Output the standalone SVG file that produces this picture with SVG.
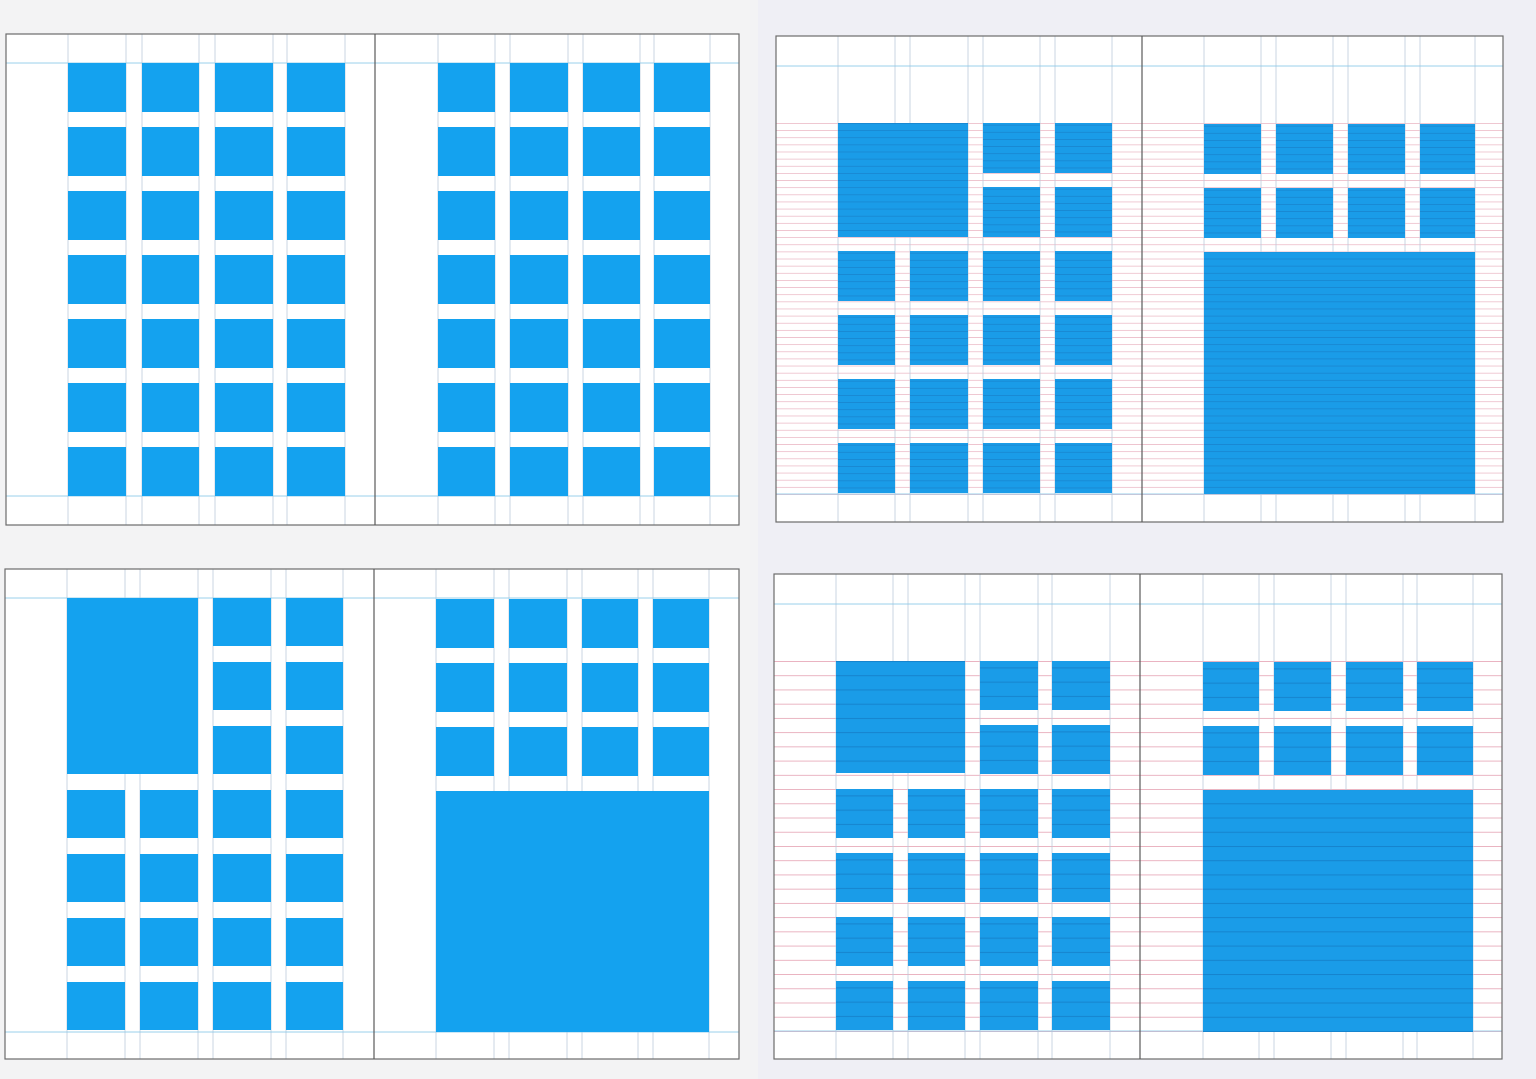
<svg xmlns="http://www.w3.org/2000/svg" xmlns:xlink="http://www.w3.org/1999/xlink" width="1536" height="1079" viewBox="0 0 1536 1079">
<style>
.page{fill:#ffffff;stroke:none}
.frame{fill:none;stroke:#6c6c6c;stroke-width:1.2}
.spine{stroke:#5a5a5a;stroke-width:1.2}
.vg{stroke:#bccadb;stroke-width:0.8}
.hg{stroke:#8fcbe9;stroke-width:0.9}
.c{fill:#14a2ef}
.cl1{fill:url(#pTRc)}
.cl2{fill:url(#pBRc)}
</style>
<defs>
<pattern id="pTR" patternUnits="userSpaceOnUse" x="0" y="123" width="20" height="7.135"><rect width="20" height="0.7" fill="#eab3c1"/></pattern>
<pattern id="pTRc" patternUnits="userSpaceOnUse" x="0" y="123" width="20" height="7.135"><rect width="20" height="7.135" fill="#1a9ce8"/><rect width="20" height="0.8" fill="#1886d0"/></pattern>
<pattern id="pBR" patternUnits="userSpaceOnUse" x="0" y="661" width="20" height="14.23"><rect width="20" height="0.9" fill="#e8adbc"/></pattern>
<pattern id="pBRc" patternUnits="userSpaceOnUse" x="0" y="661" width="20" height="14.23"><rect width="20" height="14.23" fill="#1a9ce8"/><rect width="20" height="1" fill="#1683cd"/></pattern>
<g id="rowTL">
<rect class="c" x="68" y="0" width="58" height="49"/><rect class="c" x="142" y="0" width="57" height="49"/><rect class="c" x="215" y="0" width="58" height="49"/><rect class="c" x="287" y="0" width="58" height="49"/>
<rect class="c" x="438" y="0" width="57" height="49"/><rect class="c" x="510" y="0" width="58" height="49"/><rect class="c" x="583" y="0" width="57" height="49"/><rect class="c" x="654" y="0" width="56" height="49"/>
</g>
<g id="rowTRL">
<rect class="cl1" x="838" y="0" width="57" height="50"/><rect class="cl1" x="910" y="0" width="58" height="50"/><rect class="cl1" x="983" y="0" width="57" height="50"/><rect class="cl1" x="1055" y="0" width="57" height="50"/>
</g>
<g id="rowTRL2">
<rect class="cl1" x="983" y="0" width="57" height="50"/><rect class="cl1" x="1055" y="0" width="57" height="50"/>
</g>
<g id="rowTRR">
<rect class="cl1" x="1204" y="0" width="57" height="50"/><rect class="cl1" x="1276" y="0" width="57" height="50"/><rect class="cl1" x="1348" y="0" width="57" height="50"/><rect class="cl1" x="1420" y="0" width="55" height="50"/>
</g>
<g id="rowBLL">
<rect class="c" x="67" y="0" width="58" height="48"/><rect class="c" x="140" y="0" width="58" height="48"/><rect class="c" x="213" y="0" width="58" height="48"/><rect class="c" x="286" y="0" width="57" height="48"/>
</g>
<g id="rowBLL2">
<rect class="c" x="213" y="0" width="58" height="48"/><rect class="c" x="286" y="0" width="57" height="48"/>
</g>
<g id="rowBLR">
<rect class="c" x="436" y="0" width="58" height="49"/><rect class="c" x="509" y="0" width="58" height="49"/><rect class="c" x="582" y="0" width="56" height="49"/><rect class="c" x="653" y="0" width="56" height="49"/>
</g>
<g id="rowBRL">
<rect class="cl2" x="836" y="0" width="57" height="49"/><rect class="cl2" x="908" y="0" width="57" height="49"/><rect class="cl2" x="980" y="0" width="58" height="49"/><rect class="cl2" x="1052" y="0" width="58" height="49"/>
</g>
<g id="rowBRL2">
<rect class="cl2" x="980" y="0" width="58" height="49"/><rect class="cl2" x="1052" y="0" width="58" height="49"/>
</g>
<g id="rowBRR">
<rect class="cl2" x="1203" y="0" width="56" height="49"/><rect class="cl2" x="1274" y="0" width="57" height="49"/><rect class="cl2" x="1346" y="0" width="57" height="49"/><rect class="cl2" x="1417" y="0" width="56" height="49"/>
</g>
</defs>

<rect x="0" y="0" width="758" height="1079" fill="#f3f3f4"/>
<rect x="758" y="0" width="778" height="1079" fill="#efeff5"/>

<g id="spread-top-left">
<rect class="page" x="6" y="34" width="733" height="491"/>
<g>
<line class="vg" x1="68" y1="34" x2="68" y2="525"/><line class="vg" x1="126" y1="34" x2="126" y2="525"/><line class="vg" x1="142" y1="34" x2="142" y2="525"/><line class="vg" x1="199" y1="34" x2="199" y2="525"/><line class="vg" x1="215" y1="34" x2="215" y2="525"/><line class="vg" x1="273" y1="34" x2="273" y2="525"/><line class="vg" x1="287" y1="34" x2="287" y2="525"/><line class="vg" x1="345" y1="34" x2="345" y2="525"/>
<line class="vg" x1="438" y1="34" x2="438" y2="525"/><line class="vg" x1="495" y1="34" x2="495" y2="525"/><line class="vg" x1="510" y1="34" x2="510" y2="525"/><line class="vg" x1="568" y1="34" x2="568" y2="525"/><line class="vg" x1="583" y1="34" x2="583" y2="525"/><line class="vg" x1="640" y1="34" x2="640" y2="525"/><line class="vg" x1="654" y1="34" x2="654" y2="525"/><line class="vg" x1="710" y1="34" x2="710" y2="525"/>
<line class="hg" x1="6" y1="63" x2="739" y2="63"/><line class="hg" x1="6" y1="496" x2="739" y2="496"/>
</g>
<use xlink:href="#rowTL" y="63"/><use xlink:href="#rowTL" y="127"/><use xlink:href="#rowTL" y="191"/><use xlink:href="#rowTL" y="255"/><use xlink:href="#rowTL" y="319"/><use xlink:href="#rowTL" y="383"/><use xlink:href="#rowTL" y="447"/>
<rect class="frame" x="6" y="34" width="733" height="491"/>
<line class="spine" x1="375" y1="34" x2="375" y2="525"/>
</g>

<g id="spread-top-right">
<rect class="page" x="776" y="36" width="727" height="486"/>
<rect x="776" y="123" width="727" height="372" fill="url(#pTR)"/>
<g>
<line class="vg" x1="838" y1="36" x2="838" y2="522"/><line class="vg" x1="895" y1="36" x2="895" y2="522"/><line class="vg" x1="910" y1="36" x2="910" y2="522"/><line class="vg" x1="968" y1="36" x2="968" y2="522"/><line class="vg" x1="983" y1="36" x2="983" y2="522"/><line class="vg" x1="1040" y1="36" x2="1040" y2="522"/><line class="vg" x1="1055" y1="36" x2="1055" y2="522"/><line class="vg" x1="1112" y1="36" x2="1112" y2="522"/>
<line class="vg" x1="1204" y1="36" x2="1204" y2="522"/><line class="vg" x1="1261" y1="36" x2="1261" y2="522"/><line class="vg" x1="1276" y1="36" x2="1276" y2="522"/><line class="vg" x1="1333" y1="36" x2="1333" y2="522"/><line class="vg" x1="1348" y1="36" x2="1348" y2="522"/><line class="vg" x1="1405" y1="36" x2="1405" y2="522"/><line class="vg" x1="1420" y1="36" x2="1420" y2="522"/><line class="vg" x1="1475" y1="36" x2="1475" y2="522"/>
<line class="hg" x1="776" y1="66" x2="1503" y2="66"/><line class="hg" x1="776" y1="494" x2="1503" y2="494"/>
</g>
<rect class="cl1" x="838" y="123" width="130" height="114"/>
<use xlink:href="#rowTRL2" y="123"/><use xlink:href="#rowTRL2" y="187"/>
<use xlink:href="#rowTRL" y="251"/><use xlink:href="#rowTRL" y="315"/><use xlink:href="#rowTRL" y="379"/><use xlink:href="#rowTRL" y="443"/>
<use xlink:href="#rowTRR" y="124"/><use xlink:href="#rowTRR" y="188"/>
<rect class="cl1" x="1204" y="252" width="271" height="242"/>
<rect class="frame" x="776" y="36" width="727" height="486"/>
<line class="spine" x1="1142" y1="36" x2="1142" y2="522"/>
</g>

<g id="spread-bottom-left">
<rect class="page" x="5" y="569" width="734" height="490"/>
<g>
<line class="vg" x1="67" y1="569" x2="67" y2="1059"/><line class="vg" x1="125" y1="569" x2="125" y2="1059"/><line class="vg" x1="140" y1="569" x2="140" y2="1059"/><line class="vg" x1="198" y1="569" x2="198" y2="1059"/><line class="vg" x1="213" y1="569" x2="213" y2="1059"/><line class="vg" x1="271" y1="569" x2="271" y2="1059"/><line class="vg" x1="286" y1="569" x2="286" y2="1059"/><line class="vg" x1="343" y1="569" x2="343" y2="1059"/>
<line class="vg" x1="436" y1="569" x2="436" y2="1059"/><line class="vg" x1="494" y1="569" x2="494" y2="1059"/><line class="vg" x1="509" y1="569" x2="509" y2="1059"/><line class="vg" x1="567" y1="569" x2="567" y2="1059"/><line class="vg" x1="582" y1="569" x2="582" y2="1059"/><line class="vg" x1="638" y1="569" x2="638" y2="1059"/><line class="vg" x1="653" y1="569" x2="653" y2="1059"/><line class="vg" x1="709" y1="569" x2="709" y2="1059"/>
<line class="hg" x1="5" y1="598" x2="739" y2="598"/><line class="hg" x1="5" y1="1032" x2="739" y2="1032"/>
</g>
<rect class="c" x="67" y="598" width="131" height="176"/>
<use xlink:href="#rowBLL2" y="598"/><use xlink:href="#rowBLL2" y="662"/><use xlink:href="#rowBLL2" y="726"/>
<use xlink:href="#rowBLL" y="790"/><use xlink:href="#rowBLL" y="854"/><use xlink:href="#rowBLL" y="918"/><use xlink:href="#rowBLL" y="982"/>
<use xlink:href="#rowBLR" y="599"/><use xlink:href="#rowBLR" y="663"/><use xlink:href="#rowBLR" y="727"/>
<rect class="c" x="436" y="791" width="273" height="241"/>
<rect class="frame" x="5" y="569" width="734" height="490"/>
<line class="spine" x1="374" y1="569" x2="374" y2="1059"/>
</g>

<g id="spread-bottom-right">
<rect class="page" x="774" y="574" width="728" height="485"/>
<rect x="774" y="661" width="728" height="372" fill="url(#pBR)"/>
<g>
<line class="vg" x1="836" y1="574" x2="836" y2="1059"/><line class="vg" x1="893" y1="574" x2="893" y2="1059"/><line class="vg" x1="908" y1="574" x2="908" y2="1059"/><line class="vg" x1="965" y1="574" x2="965" y2="1059"/><line class="vg" x1="980" y1="574" x2="980" y2="1059"/><line class="vg" x1="1038" y1="574" x2="1038" y2="1059"/><line class="vg" x1="1052" y1="574" x2="1052" y2="1059"/><line class="vg" x1="1110" y1="574" x2="1110" y2="1059"/>
<line class="vg" x1="1203" y1="574" x2="1203" y2="1059"/><line class="vg" x1="1259" y1="574" x2="1259" y2="1059"/><line class="vg" x1="1274" y1="574" x2="1274" y2="1059"/><line class="vg" x1="1331" y1="574" x2="1331" y2="1059"/><line class="vg" x1="1346" y1="574" x2="1346" y2="1059"/><line class="vg" x1="1403" y1="574" x2="1403" y2="1059"/><line class="vg" x1="1417" y1="574" x2="1417" y2="1059"/><line class="vg" x1="1473" y1="574" x2="1473" y2="1059"/>
<line class="hg" x1="774" y1="604" x2="1502" y2="604"/><line class="hg" x1="774" y1="1031" x2="1502" y2="1031"/>
</g>
<rect class="cl2" x="836" y="661" width="129" height="112"/>
<use xlink:href="#rowBRL2" y="661"/><use xlink:href="#rowBRL2" y="725"/>
<use xlink:href="#rowBRL" y="789"/><use xlink:href="#rowBRL" y="853"/><use xlink:href="#rowBRL" y="917"/><use xlink:href="#rowBRL" y="981"/>
<use xlink:href="#rowBRR" y="662"/><use xlink:href="#rowBRR" y="726"/>
<rect class="cl2" x="1203" y="790" width="270" height="242"/>
<rect class="frame" x="774" y="574" width="728" height="485"/>
<line class="spine" x1="1140" y1="574" x2="1140" y2="1059"/>
</g>
</svg>
